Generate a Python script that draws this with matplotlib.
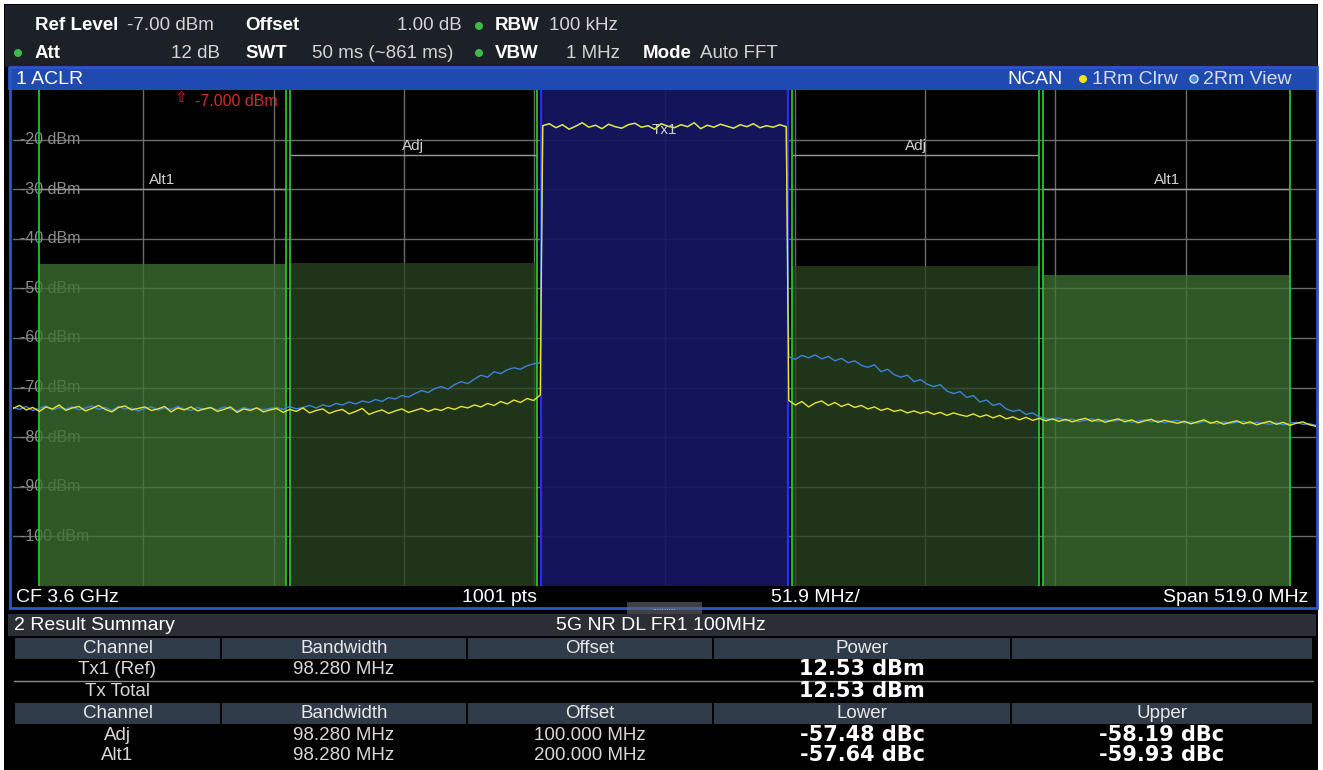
import numpy as np
import matplotlib
matplotlib.use("Agg")
import matplotlib.pyplot as plt
from matplotlib.patches import Rectangle, Circle
from matplotlib import transforms

plt.rcParams['font.family'] = ['Liberation Sans', 'DejaVu Sans']

# sweep settings
cf = 3600.0
span = 519.0
f_start = cf - span / 2
f_stop = cf + span / 2

# channels: name, offset from CF (MHz), limit line top (dBm), bar level (dBm)
ch_names = ["Alt1", "Adj", "Tx1", "Adj", "Alt1"]
ch_offsets = [-200, -100, 0, 100, 200]
ch_bw = 98.28
ch_limits = [-45.0, -44.8, None, -45.5, -47.3]
ch_bar = [-30.0, -23.2, -20.0, -23.2, -30.0]

# trace 1 (yellow, Clrw)
yel_lower = [-74.2, -73.6, -74.5, -74.0, -74.8, -73.9, -74.3, -73.5, -74.6, -74.1,
             -73.8, -74.7, -74.2, -73.6, -74.4, -74.9, -74.0, -73.7, -74.5, -74.2,
             -73.9, -74.6, -74.3, -73.8, -74.9, -74.1, -74.5, -73.9, -74.7, -74.3,
             -74.0, -74.8, -74.4, -73.9, -75.0, -74.3, -74.6, -74.1, -74.9, -74.5,
             -74.2, -75.0, -74.4, -74.8, -74.1, -75.1, -74.6, -74.3, -75.2, -74.7,
             -74.4, -75.3, -74.8, -74.2, -75.4, -74.9, -74.5, -75.2, -74.7, -74.3,
             -75.0, -74.6, -74.2, -74.8, -74.3, -74.6, -74.0, -74.4, -73.8, -74.1,
             -73.5, -73.9, -73.2, -73.6, -72.8, -73.3, -72.5, -73.0, -72.2, -72.6,
             -71.5]
tx_level = [-17.2, -16.8, -17.6, -17.0, -17.9, -17.3, -16.6, -17.5, -17.1, -17.8,
            -16.9, -17.4, -17.7, -17.0, -16.7, -17.5, -17.2, -17.9, -16.8, -17.3,
            -17.6, -17.0, -17.4, -16.6, -17.8, -17.1, -17.5, -16.9, -17.3, -17.7,
            -17.0, -17.4, -16.8, -17.6, -17.2, -17.5, -17.0, -17.4]
yel_upper = [-72.6, -73.5, -72.8, -73.9, -73.1, -72.7, -73.6, -73.0, -73.8, -73.3,
             -74.0, -73.6, -74.3, -73.9, -74.6, -74.2, -74.8, -74.5, -75.1, -74.7,
             -75.2, -74.8, -75.4, -75.0, -75.6, -75.1, -75.5, -75.8, -75.3, -75.9,
             -75.5, -76.1, -75.6, -76.3, -75.9, -76.5, -76.0, -76.6, -76.2, -76.7,
             -76.3, -76.8, -76.4, -76.9, -76.5, -76.2, -76.8, -76.4, -77.0, -76.6,
             -76.3, -76.9, -76.5, -77.1, -76.7, -76.4, -77.0, -76.6, -76.9, -77.2,
             -76.8, -77.3, -76.9, -76.5, -77.2, -76.8, -77.4, -77.0, -76.7, -77.3,
             -76.9, -77.5, -77.1, -76.8, -77.4, -77.0, -77.6, -77.2, -76.9, -77.5,
             -77.8]

# trace 2 (blue, View)
blu_lower = [-74.0, -74.4, -73.8, -74.6, -74.2, -73.7, -74.5, -74.0, -74.3, -73.9,
             -74.5, -74.1, -73.7, -74.4, -74.0, -74.6, -73.8, -74.3, -74.1, -74.7,
             -74.2, -73.9, -74.5, -74.1, -74.4, -73.8, -74.3, -74.6, -74.0, -74.4,
             -74.1, -74.5, -73.9, -74.3, -74.7, -74.0, -74.4, -74.1, -74.5, -74.2,
             -74.0, -74.4, -73.8, -74.3, -74.0, -73.6, -74.1, -73.5, -73.8, -73.2,
             -73.5, -72.9, -73.3, -72.7, -73.0, -72.4, -72.8, -72.0, -72.3, -71.6,
             -71.9, -71.2, -70.6, -71.0, -70.2, -69.8, -70.3, -69.4, -68.8, -69.2,
             -68.3, -67.5, -67.9, -66.8, -67.2, -66.4, -66.0, -66.3, -65.6, -65.2,
             -65.0]
blu_upper = [-63.8, -64.3, -63.5, -64.0, -63.4, -64.2, -63.7, -64.6, -64.1, -65.0,
             -64.6, -65.5, -65.9, -65.4, -66.8, -66.3, -67.4, -67.9, -67.5, -68.8,
             -68.4, -69.3, -69.8, -69.4, -70.7, -71.2, -70.8, -72.0, -71.6, -72.9,
             -72.5, -73.6, -73.2, -74.3, -74.8, -74.5, -75.4, -75.1, -75.9, -76.2,
             -76.5, -76.1, -76.7, -76.3, -76.9, -76.6, -76.3, -76.9, -76.5, -76.8,
             -76.6, -76.4, -77.0, -76.7, -76.5, -76.9, -76.7, -77.1, -76.8, -76.6,
             -77.1, -76.9, -77.2, -76.8, -77.0, -77.3, -76.9, -77.2, -77.0, -76.8,
             -77.3, -77.0, -77.2, -77.4, -77.1, -77.5, -77.2, -77.0, -77.4, -77.3,
             -77.6]

# result summary table
hdr1 = ["Channel", "Bandwidth", "Offset", "Power", ""]
rows1 = [["Tx1 (Ref)", "98.280 MHz", "", "12.53 dBm", ""],
         ["Tx Total", "", "", "12.53 dBm", ""]]
hdr2 = ["Channel", "Bandwidth", "Offset", "Lower", "Upper"]
rows2 = [["Adj", "98.280 MHz", "100.000 MHz", "-57.48 dBc", "-58.19 dBc"],
         ["Alt1", "98.280 MHz", "200.000 MHz", "-57.64 dBc", "-59.93 dBc"]]

W, H = 1323, 770
fig = plt.figure(figsize=(W / 100, H / 100), dpi=100)
fig.patch.set_facecolor('white')

bg = fig.add_axes([0, 0, 1, 1])
bg.set_xlim(0, W)
bg.set_ylim(H, 0)
bg.axis('off')

def box(x0, y0, x1, y1, c, **kw):
    bg.add_patch(Rectangle((x0, y0), x1 - x0, y1 - y0, facecolor=c, edgecolor='none', **kw))

box(4, 4, 1318, H, 'black')
box(5, 5, 1317, 67, '#1c2128')
box(8, 67, 1317, 90, '#1f4bb0')
bg.add_patch(Rectangle((9.5, 67), 1307, 540.5, facecolor='none', edgecolor='#2c56c6', lw=2))

# header
lab = dict(color='white', fontsize=13.5, fontweight='bold', va='center')
val = dict(color='#d4d4d4', fontsize=13.5, va='center')
bg.text(35, 26, "Ref Level", **lab)
bg.text(127, 26, "-7.00 dBm", **val)
bg.text(245, 26, "Offset", **lab)
bg.text(462, 26, "1.00 dB", ha='right', **val)
bg.text(495, 26, "RBW", **lab)
bg.text(549, 26, "100 kHz", **val)
bg.text(35, 53, "Att", **lab)
bg.text(220, 53, "12 dB", ha='right', **val)
bg.text(245, 53, "SWT", **lab)
bg.text(312, 53, "50 ms (~861 ms)", **val)
bg.text(495, 53, "VBW", **lab)
bg.text(620, 53, "1 MHz", ha='right', **val)
bg.text(643, 53, "Mode", **lab)
bg.text(700, 53, "Auto FFT", **val)
for (cx, cy) in [(18, 53), (479, 26), (479, 53)]:
    bg.add_patch(Circle((cx, cy), 4, facecolor='#3dbb4a', edgecolor='none'))

bg.text(16, 79, "1 ACLR", color='white', fontsize=14, va='center')
bg.text(1007, 79, "NCAN", color='white', fontsize=14, va='center')
bg.add_patch(Circle((1083, 79), 4, facecolor='#f2e21c', edgecolor='none'))
bg.text(1092, 79, "1Rm Clrw", color='#d8dcf0', fontsize=14, va='center')
bg.add_patch(Circle((1194, 79), 4, facecolor='#4a90e2', edgecolor='#e0e8ff', lw=1))
bg.text(1203, 79, "2Rm View", color='#d8dcf0', fontsize=14, va='center')

# diagram
ax = fig.add_axes([13 / W, (H - 586) / H, 1303 / W, 496 / H])
ax.set_facecolor('black')
ax.set_xlim(f_start, f_stop)
ax.set_ylim(-110, -10)
ax.set_xticks(f_start + np.arange(1, 10) * span / 10)
ax.set_yticks(np.arange(-100, -10, 10))
ax.tick_params(length=0, labelbottom=False, labelleft=False)
ax.grid(True, color='#6c6c6c', lw=1)
ax.set_axisbelow(True)
for s in ax.spines.values():
    s.set_visible(False)

tr = transforms.blended_transform_factory(ax.transAxes, ax.transData)
for v in range(-20, -101, -10):
    ax.text(0.0055, v, "%d dBm" % v, transform=tr, color='#8c8c8c', fontsize=11.5,
            va='center', zorder=0.6)

for name, off, lim, lvl in zip(ch_names, ch_offsets, ch_limits, ch_bar):
    lo = cf + off - ch_bw / 2
    hi = cf + off + ch_bw / 2
    if name == "Tx1":
        ax.axvspan(lo, hi, facecolor='#161662', alpha=0.93, zorder=1)
        ax.axvline(lo, color='#2a2aff', lw=1.6, zorder=2)
        ax.axvline(hi, color='#2a2aff', lw=1.6, zorder=2)
    else:
        c = '#3d7030' if name == "Alt1" else '#294420'
        ax.bar(cf + off, lim + 110, bottom=-110, width=ch_bw, color=c, alpha=0.78, zorder=1)
        ax.axvline(lo, color='#27c527', lw=1.3, zorder=2)
        ax.axvline(hi, color='#27c527', lw=1.3, zorder=2)
        ax.hlines(lvl, lo, hi, color='#9a9a9a', lw=1, zorder=1.5)
    ax.text(cf + off, lvl + 0.5, name, ha='center', va='bottom', color='#d0d0d0',
            fontsize=11, zorder=1.6)

# traces
f_lower = np.linspace(f_start, cf - 49.5, len(yel_lower))
f_tx = np.linspace(cf - 48.5, cf + 48.5, len(tx_level))
f_upper = np.linspace(cf + 49.5, f_stop, len(yel_upper))
f_all = np.concatenate([f_lower, f_tx, f_upper])
ax.plot(f_all, np.concatenate([blu_lower, tx_level, blu_upper]), color='#3c82dc', lw=1.0, zorder=3)
ax.plot(f_all, np.concatenate([yel_lower, tx_level, yel_upper]), color='#e6e62e', lw=1.0, zorder=4)

# ref level marker (on top of the diagram)
top = fig.add_axes([0, 0, 1, 1], zorder=10)
top.set_xlim(0, W)
top.set_ylim(H, 0)
top.axis('off')
top.patch.set_alpha(0)
top.text(181, 98, "\u21e7", color='#d42a2a', fontsize=11, ha='center', va='center')
top.text(195, 101, "-7.000 dBm", color='#d42a2a', fontsize=11.5, va='center')

# footer
ft = dict(color='white', fontsize=14, va='center')
bg.text(16, 597, "CF 3.6 GHz", **ft)
bg.text(500, 597, "1001 pts", ha='center', **ft)
bg.text(815, 597, "51.9 MHz/", ha='center', **ft)
bg.text(1308, 597, "Span 519.0 MHz", ha='right', **ft)
box(627, 602, 702, 616, '#60646c', alpha=0.65)
bg.text(664.5, 608, "..........", color='#c0c0c0', fontsize=6, ha='center', va='center')

# result summary
box(8, 614, 1316, 636, '#2b2f35')
bg.text(14, 625, "2 Result Summary", color='white', fontsize=14, va='center')
bg.text(661, 625, "5G NR DL FR1 100MHz", color='white', fontsize=14, va='center', ha='center')

edges = [14, 221, 467, 713, 1011, 1313]
centers = [(edges[i] + edges[i + 1]) / 2 for i in range(5)]

def header(y0, y1, labels):
    for i, t in enumerate(labels):
        box(edges[i] + 1, y0, edges[i + 1] - 1, y1, '#2f3b49')
        bg.text(centers[i], (y0 + y1) / 2, t, color='#e8e8e8', fontsize=13.5, ha='center', va='center')

def row(y, cells):
    for i, t in enumerate(cells):
        if i >= 3:
            bg.text(centers[i], y, t, color='white', fontsize=15, fontweight='bold',
                    family='DejaVu Sans', ha='center', va='center')
        else:
            bg.text(centers[i], y, t, color='#d8d8d8', fontsize=13.5, ha='center', va='center')

header(638, 659, hdr1)
row(669, rows1[0])
bg.plot([14, 1313], [681, 681], color='#8a8a8a', lw=1)
row(691, rows1[1])
header(703, 724, hdr2)
row(735, rows2[0])
row(755, rows2[1])

fig.savefig("out.png", dpi=100, facecolor=fig.get_facecolor())
